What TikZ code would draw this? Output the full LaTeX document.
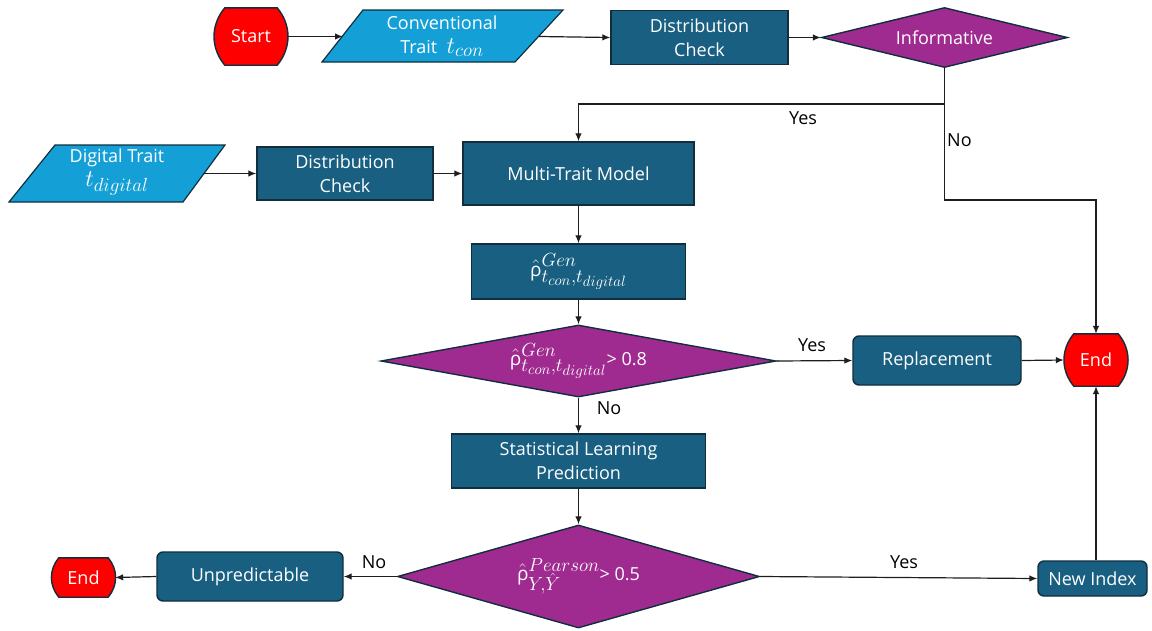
\RequirePackage{fix-cm}
\documentclass[tikz,border=0pt]{standalone}
\usepackage{fontspec}
\setmainfont{Open Sans}
\usetikzlibrary{shapes.geometric,arrows.meta,calc,backgrounds}

\DeclareMathSizes{24}{24}{19}{15}

\definecolor{boxblue}{RGB}{24,95,129}
\definecolor{inblue}{RGB}{20,160,214}
\definecolor{decpurple}{RGB}{160,43,144}
\definecolor{termred}{RGB}{255,0,0}
\definecolor{edge}{RGB}{16,46,62}
\definecolor{wire}{RGB}{30,30,30}

% formulas are set a little larger than the surrounding text
\newcommand{\mth}[1]{{\fontsize{24}{24}\selectfont$#1$}}
\newcommand{\rhat}{\hat{\mbox{\fontsize{19}{19}\selectfont ρ}}}

\tikzset{
  txt/.style={font=\fontsize{18}{24}\selectfont, text=white, align=center},
  process/.style={txt, draw=edge, line width=1.4pt, fill=boxblue, inner sep=0pt},
  roundproc/.style={process, rounded corners=6pt},
  decision/.style={txt, diamond, draw=edge, line width=1.4pt, fill=decpurple, inner sep=0pt},
  termtext/.style={txt, rectangle, inner sep=0pt},
  termfill/.style={fill=termred, draw=edge, line width=1.4pt},
  inputshape/.style={draw=edge, line width=1.2pt, fill=inblue},
  arr/.style={draw=wire, line width=1.2pt, -{Latex[length=8pt,width=6.5pt]}},
  wireline/.style={draw=wire, line width=1.2pt},
  lbl/.style={font=\fontsize{18}{22}\selectfont, text=black, inner sep=0pt},
}

% terminal: flat top and bottom, sides bowed outwards by #4
\newcommand{\termoutline}[2]{%
  \begin{pgfonlayer}{background}
    \path[termfill] ($(#1.north west)+(#2,0)$) -- ($(#1.north east)+(-#2,0)$)
      to[bend left=40] ($(#1.south east)+(-#2,0)$) -- ($(#1.south west)+(#2,0)$)
      to[bend left=40] cycle;
  \end{pgfonlayer}}

\begin{document}
\begin{tikzpicture}[x=1pt,y=-1pt]
\useasboundingbox (0,0) rectangle (1152,630);

% ---- top row ----
\node[termtext, minimum width=72pt, minimum height=57pt] (start) at (251,36.5) {Start};
\termoutline{start}{10}

\draw[inputshape] (322,62) -- (363,10) -- (563,10) -- (515,62) -- cycle;
\node[txt] (conv) at (442,36) {Conventional\\Trait \ \mth{t_{con}}};
\coordinate (convL) at (343,36.5);
\coordinate (convR) at (539,36.5);

\node[process, minimum width=177pt, minimum height=54pt] (dc1) at (699.5,37.5) {Distribution\\Check};
\node[decision, minimum width=246pt, minimum height=60pt, aspect=4.1] (inf) at (944.5,37.5) {Informative};

% ---- digital trait row ----
\draw[inputshape] (9,202) -- (55,145) -- (225,145) -- (183,202) -- cycle;
\node[txt] (dt) at (117,172) {Digital Trait\\\mth{t_{digital}}};
\coordinate (dtR) at (204,173.5);

\node[process, minimum width=176pt, minimum height=53pt] (dc2) at (345,173.5) {Distribution\\Check};
\node[process, minimum width=231pt, minimum height=63pt] (mt) at (578.5,173.5) {Multi-Trait Model};

% ---- correlation ----
\node[process, minimum width=214pt, minimum height=55pt] (rho) at (578.5,271.5)
  {\mth{\rhat^{Gen}_{t_{con},t_{digital}}}};
\node[decision, minimum width=395pt, minimum height=72pt, aspect=5.5] (d2) at (578.5,361)
  {\mth{\rhat^{Gen}_{t_{con},t_{digital}}}> 0.8};

\node[roundproc, minimum width=168pt, minimum height=49pt] (rep) at (937,360.5) {Replacement};
\node[termtext, minimum width=64pt, minimum height=52pt] (end1) at (1096,360) {End};
\termoutline{end1}{10}

% ---- prediction ----
\node[process, minimum width=254pt, minimum height=54pt] (slp) at (578.5,461) {Statistical Learning\\Prediction};
\node[decision, minimum width=362pt, minimum height=103pt, aspect=3.5] (d3) at (578.5,576.5)
  {\mth{\rhat^{Pearson}_{Y,\hat{Y}}}> 0.5};

\node[roundproc, minimum width=186pt, minimum height=49pt] (unp) at (250,576.5) {Unpredictable};
\node[termtext, minimum width=63pt, minimum height=39pt] (end2) at (83.5,577.5) {End};
\termoutline{end2}{7}
\node[roundproc, minimum width=109pt, minimum height=35pt] (ni) at (1092.5,578.5) {New Index};

% ---- connectors ----
\coordinate (jy) at (944.5,104);
\coordinate (jn) at (944.5,200);

\draw[arr] (start.east) -- (convL);
\draw[arr] (convR) -- (dc1.west);
\draw[arr] (dc1.east) -- (inf.west);
\draw[wireline] (inf.south) -- (jy);
\draw[arr] (jy) -| (mt.north);
\draw[arr] (jy) -- (jn) -| (end1.north);

\draw[arr] (dtR) -- (dc2.west);
\draw[arr] (dc2.east) -- (mt.west);
\draw[arr] (mt.south) -- (rho.north);
\draw[arr] (rho.south) -- (d2.north);
\draw[arr] (d2.east) -- (rep.west);
\draw[arr] (rep.east) -- (end1.west);
\draw[arr] (d2.south) -- (slp.north);
\draw[arr] (slp.south) -- (d3.north);
\draw[arr] (d3.west) -- (unp.east);
\draw[arr] (unp.west) -- (end2.east);
\draw[arr] (d3.east) -- (ni.west);
\draw[arr] (end1.south |- ni.north) -- (end1.south);

% ---- branch labels ----
\node[lbl] (yes1) at (803,118) {Yes};
\node[lbl, anchor=west] (no1) at (947,140) {No};
\node[lbl] (yes2) at (812,345) {Yes};
\node[lbl] (no2) at (609,408) {No};
\node[lbl] (no3) at (374,562) {No};
\node[lbl] (yes3) at (904,562) {Yes};
\end{tikzpicture}
\end{document}
